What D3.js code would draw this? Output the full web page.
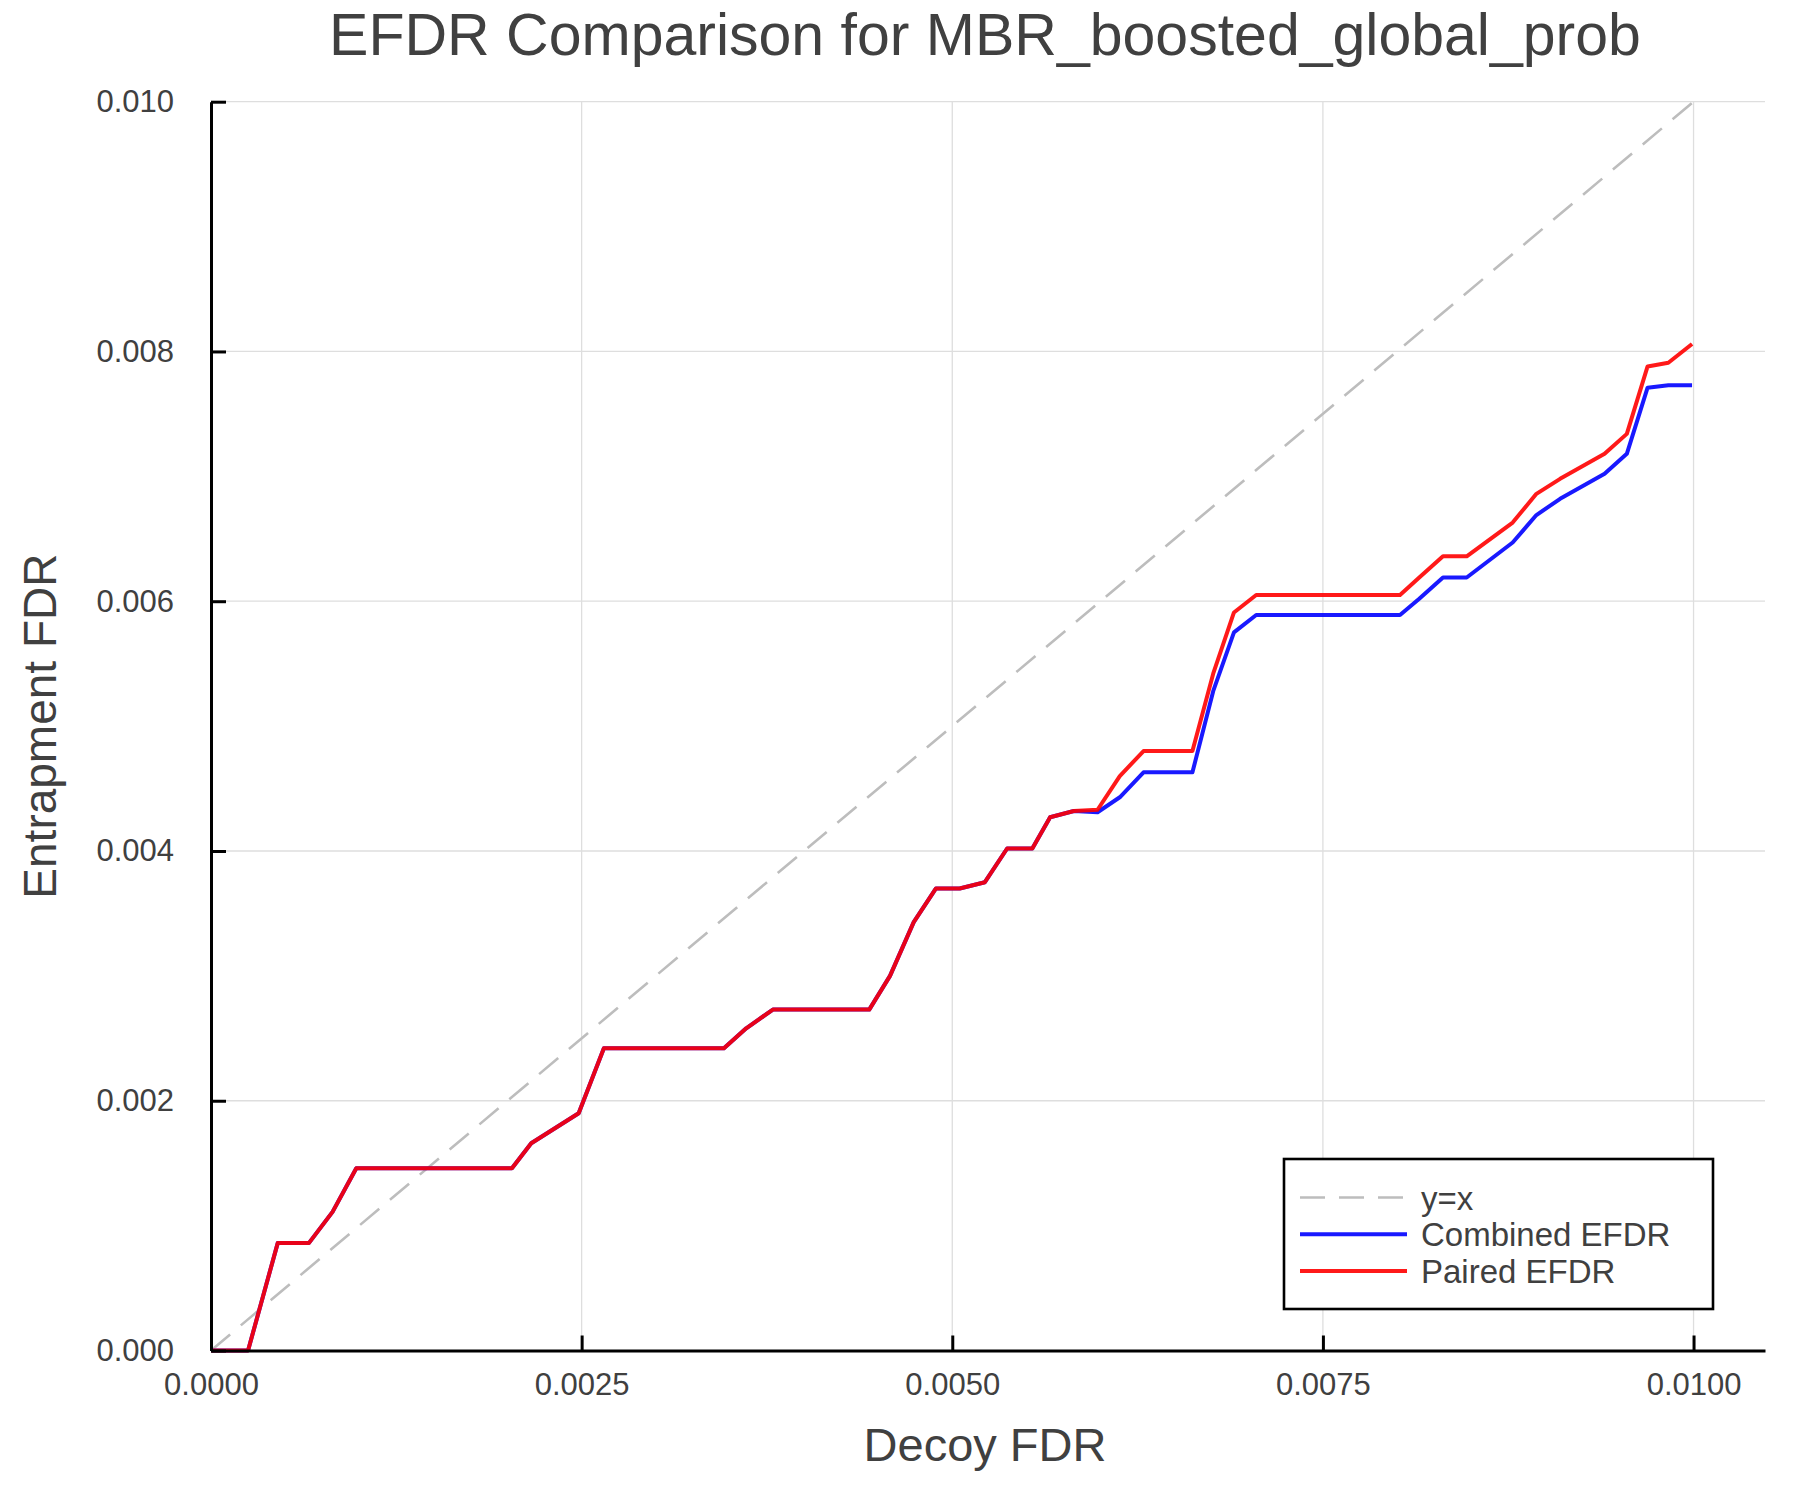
<!DOCTYPE html>
<html>
<head>
<meta charset="utf-8">
<script src="https://cdn.jsdelivr.net/npm/d3@7"></script>
<style>
  html, body { margin: 0; padding: 0; background: #ffffff; }
  svg { display: block; }
  text { font-family: "Liberation Sans", Arial, Helvetica, sans-serif; fill: #404040; }
</style>
</head>
<body>
<script>
// ---------------- data ----------------
const decoyFDR = [
  0.00000, 0.00025, 0.00045, 0.00066, 0.00082, 0.00098,
  0.00203, 0.00216, 0.00248, 0.00265, 0.00346, 0.00361,
  0.00379, 0.00444, 0.00458, 0.00474, 0.00489, 0.00505,
  0.00522, 0.00537, 0.00554, 0.00566, 0.00582, 0.00598,
  0.00613, 0.00629, 0.00662, 0.00676, 0.00690, 0.00705,
  0.00802, 0.00815, 0.00831, 0.00847, 0.00878, 0.00894,
  0.00910, 0.00940, 0.00955, 0.00969, 0.00983, 0.00999
];
const combinedEFDR = [
  0.00000, 0.00000, 0.00086, 0.00086, 0.00111, 0.00146,
  0.00146, 0.00166, 0.00190, 0.00242, 0.00242, 0.00258,
  0.00273, 0.00273, 0.00300, 0.00343, 0.00370, 0.00370,
  0.00375, 0.00402, 0.00402, 0.00427, 0.00432, 0.00431,
  0.00443, 0.00463, 0.00463, 0.00528, 0.00575, 0.00589,
  0.00589, 0.00602, 0.00619, 0.00619, 0.00647, 0.00669,
  0.00682, 0.00702, 0.00718, 0.00771, 0.00773, 0.00773
];
const pairedEFDR = [
  0.00000, 0.00000, 0.00086, 0.00086, 0.00111, 0.00146,
  0.00146, 0.00166, 0.00190, 0.00242, 0.00242, 0.00258,
  0.00273, 0.00273, 0.00300, 0.00343, 0.00370, 0.00370,
  0.00375, 0.00402, 0.00402, 0.00427, 0.00432, 0.00433,
  0.00460, 0.00480, 0.00480, 0.00542, 0.00591, 0.00605,
  0.00605, 0.00619, 0.00636, 0.00636, 0.00663, 0.00686,
  0.00698, 0.00718, 0.00734, 0.00788, 0.00791, 0.00806
];
const identityLine = [0, 0.01];
const xTicks = [0, 0.0025, 0.005, 0.0075, 0.01];
const yTicks = [0, 0.002, 0.004, 0.006, 0.008, 0.01];
const seriesNames = ["y=x", "Combined EFDR", "Paired EFDR"];
const titleText = "EFDR Comparison for MBR_boosted_global_prob";
const xLabelText = "Decoy FDR";
const yLabelText = "Entrapment FDR";

// ---------------- layout ----------------
const W = 1800, H = 1500;
const plotL = 211, plotR = 1765, plotT = 101.7, plotB = 1350.5;

const svg = d3.select("body").append("svg")
  .attr("width", W).attr("height", H)
  .attr("viewBox", `0 0 ${W} ${H}`);
svg.append("rect").attr("width", W).attr("height", H).attr("fill", "#ffffff");

const x = d3.scaleLinear().domain([0, 0.010482]).range([plotL, plotR]);
const y = d3.scaleLinear().domain([0, 0.01]).range([plotB, plotT]);

// grid
const grid = svg.append("g");
grid.selectAll("line.gx").data(xTicks.filter(d => d > 0)).join("line")
  .attr("class", "gx")
  .attr("x1", d => x(d)).attr("x2", d => x(d))
  .attr("y1", y(0)).attr("y2", y(0.01))
  .attr("stroke", "#dedede").attr("stroke-width", 1.3);
grid.selectAll("line.gy").data(yTicks.filter(d => d > 0)).join("line")
  .attr("class", "gy")
  .attr("x1", plotL).attr("x2", plotR)
  .attr("y1", d => y(d)).attr("y2", d => y(d))
  .attr("stroke", "#dedede").attr("stroke-width", 1.3);

// data lines
const pts = arr => decoyFDR.map((d, i) => [d, arr[i]]);
const line = d3.line().x(d => x(d[0])).y(d => y(d[1]));

svg.append("path")
  .datum(identityLine.map(v => [v, v]))
  .attr("d", line)
  .attr("fill", "none").attr("stroke", "#bdbdbd")
  .attr("stroke-width", 2.6).attr("stroke-dasharray", "25 14");

svg.append("path")
  .datum(pts(combinedEFDR))
  .attr("d", line)
  .attr("fill", "none").attr("stroke", "blue").attr("stroke-opacity", 0.9)
  .attr("stroke-width", 4).attr("stroke-linejoin", "round");

svg.append("path")
  .datum(pts(pairedEFDR))
  .attr("d", line)
  .attr("fill", "none").attr("stroke", "red").attr("stroke-opacity", 0.9)
  .attr("stroke-width", 4).attr("stroke-linejoin", "round");

// axes
const xAxis = d3.axisBottom(x).tickValues(xTicks).tickFormat(d3.format(".4f"))
  .tickSizeInner(-15).tickSizeOuter(0).tickPadding(22);
const yAxis = d3.axisLeft(y).tickValues(yTicks).tickFormat(d3.format(".3f"))
  .tickSizeInner(-15).tickSizeOuter(0).tickPadding(37);

const gx = svg.append("g").attr("transform", `translate(0,${plotB})`).call(xAxis);
const gy = svg.append("g").attr("transform", `translate(${plotL},0)`).call(yAxis);
[gx, gy].forEach(g => {
  g.select(".domain").attr("stroke", "#000").attr("stroke-width", 3);
  g.selectAll(".tick line").attr("stroke", "#000").attr("stroke-width", 3);
  g.selectAll(".tick text")
    .attr("font-family", "Liberation Sans, Arial, Helvetica, sans-serif")
    .attr("font-size", 31).attr("fill", "#404040");
});

// title and labels
svg.append("text").attr("x", 985).attr("y", 55)
  .attr("text-anchor", "middle").attr("font-size", 59).text(titleText);
svg.append("text").attr("x", 985).attr("y", 1461)
  .attr("text-anchor", "middle").attr("font-size", 47).text(xLabelText);
svg.append("text")
  .attr("transform", `translate(56,${(plotT + plotB) / 2}) rotate(-90)`)
  .attr("text-anchor", "middle").attr("font-size", 46).text(yLabelText);

// legend
const lg = svg.append("g");
lg.append("rect").attr("x", 1284).attr("y", 1159).attr("width", 429).attr("height", 150)
  .attr("fill", "#ffffff").attr("stroke", "#000").attr("stroke-width", 2.6);
const legendStyles = [
  { color: "#bdbdbd", dash: "25 14", width: 2.6, op: 1 },
  { color: "blue", dash: null, width: 4, op: 0.9 },
  { color: "red", dash: null, width: 4, op: 0.9 }
];
const rowY = d3.scalePoint().domain(seriesNames).range([1197.5, 1271]);
seriesNames.forEach((name, i) => {
  const yy = rowY(name);
  lg.append("line").attr("x1", 1300).attr("x2", 1407).attr("y1", yy).attr("y2", yy)
    .attr("stroke", legendStyles[i].color).attr("stroke-width", legendStyles[i].width)
    .attr("stroke-opacity", legendStyles[i].op)
    .attr("stroke-dasharray", legendStyles[i].dash);
  lg.append("text").attr("x", 1421).attr("y", yy + 12)
    .attr("font-size", 33).text(name);
});
</script>
</body>
</html>
